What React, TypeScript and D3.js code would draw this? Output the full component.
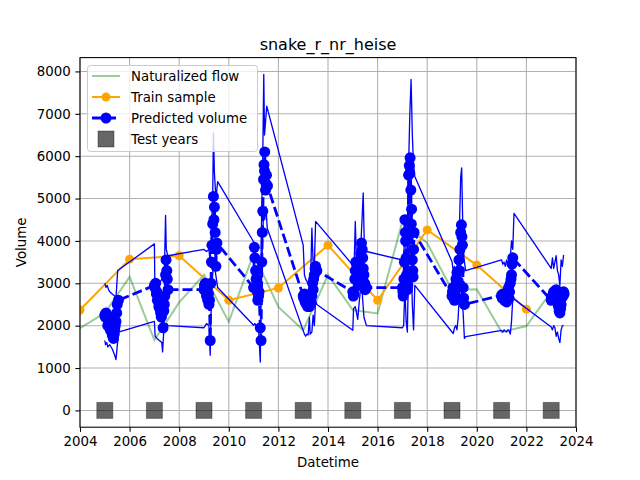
import React, { useRef, useEffect } from 'react';
import * as d3 from 'd3';

// Naturalized flow, one value per year
const naturalYears = [2004, 2005, 2006, 2007, 2008, 2009, 2010, 2011, 2012, 2013, 2014, 2015, 2016, 2017, 2018, 2019, 2020, 2021, 2022, 2023];
const naturalFlow = [1940, 2300, 3150, 1660, 2550, 3200, 2090, 3700, 2440, 1890, 3200, 2370, 2290, 4460, 3950, 2840, 2860, 1850, 1990, 2800];

// Train sample (even years)
const trainYears = [2004, 2006, 2008, 2010, 2012, 2014, 2016, 2018, 2020, 2022];
const trainValues = [2370, 3570, 3650, 2600, 2890, 3900, 2600, 4260, 3430, 2390];

// Test years (odd years)
const testYears = [2005, 2007, 2009, 2011, 2013, 2015, 2017, 2019, 2021, 2023];

// Predicted volume, [decimal year, value]
const predMedian: [number, number][] = [
  [2005.0, 2250], [2005.02, 2200], [2005.05, 2300], [2005.08, 2250], [2005.1, 2200], [2005.12, 2000], [2005.15, 2100], [2005.18, 2050], [2005.2, 2150], [2005.22, 1900], [2005.25, 1950], [2005.28, 2000], [2005.3, 1800], [2005.32, 1750], [2005.35, 1700], [2005.38, 1800], [2005.4, 1900], [2005.42, 2000], [2005.45, 2100], [2005.48, 2300], [2005.5, 2500], [2005.55, 2600],
  [2007.0, 2950], [2007.02, 2900], [2007.05, 3000], [2007.08, 2750], [2007.1, 2800], [2007.12, 2600], [2007.15, 2700], [2007.18, 2450], [2007.2, 2500], [2007.22, 2400], [2007.25, 2300], [2007.28, 2200], [2007.3, 2600], [2007.32, 2300], [2007.35, 1950], [2007.38, 2350], [2007.4, 2500], [2007.42, 2700], [2007.45, 3200], [2007.47, 3550], [2007.5, 3300], [2007.52, 3100], [2007.55, 2850],
  [2009.0, 2850], [2009.02, 2950], [2009.05, 3000], [2009.08, 2800], [2009.1, 2700], [2009.12, 2900], [2009.15, 2600], [2009.18, 2750], [2009.2, 2500], [2009.22, 2600], [2009.25, 1650], [2009.28, 3000], [2009.3, 3500], [2009.32, 3900], [2009.35, 4400], [2009.38, 5050], [2009.4, 4500], [2009.42, 4800], [2009.45, 4200], [2009.48, 3400], [2009.5, 3800], [2009.52, 3950],
  [2011.0, 2900], [2011.03, 3850], [2011.05, 3600], [2011.08, 3300], [2011.1, 3100], [2011.12, 2950], [2011.15, 2800], [2011.17, 2600], [2011.2, 2700], [2011.22, 2800], [2011.27, 1950], [2011.3, 1650], [2011.33, 3500], [2011.35, 4200], [2011.37, 4700], [2011.4, 5450], [2011.42, 5800], [2011.44, 5650], [2011.45, 6100], [2011.48, 5200], [2011.5, 5350], [2011.52, 5550], [2011.56, 5300],
  [2013.0, 2700], [2013.02, 2650], [2013.05, 2750], [2013.08, 2550], [2013.1, 2600], [2013.12, 2700], [2013.15, 2500], [2013.18, 2450], [2013.2, 2550], [2013.22, 2600], [2013.25, 2450], [2013.28, 2500], [2013.3, 2600], [2013.32, 2750], [2013.35, 2700], [2013.38, 3000], [2013.4, 2850], [2013.42, 3100], [2013.45, 3200], [2013.48, 3350], [2013.5, 3400], [2013.55, 3300],
  [2015.0, 2800], [2015.02, 2700], [2015.05, 2750], [2015.08, 3100], [2015.1, 3300], [2015.12, 3500], [2015.15, 3450], [2015.18, 3250], [2015.2, 3100], [2015.22, 2950], [2015.25, 3000], [2015.28, 3250], [2015.3, 3400], [2015.32, 3700], [2015.35, 3950], [2015.38, 3800], [2015.4, 3600], [2015.42, 3350], [2015.45, 3200], [2015.48, 3000], [2015.5, 2850], [2015.55, 2900],
  [2017.0, 2900], [2017.02, 2800], [2017.03, 2700], [2017.06, 3100], [2017.08, 3500], [2017.1, 4500], [2017.12, 4200], [2017.13, 4000], [2017.15, 3600], [2017.17, 3200], [2017.2, 2850], [2017.22, 2950], [2017.25, 5550], [2017.28, 5780], [2017.3, 5600], [2017.31, 5960], [2017.34, 5200], [2017.36, 4400], [2017.37, 4750], [2017.4, 3550], [2017.42, 3300], [2017.43, 3150], [2017.45, 3800], [2017.47, 4200],
  [2019.0, 2700], [2019.02, 2800], [2019.04, 2900], [2019.06, 2750], [2019.08, 2650], [2019.1, 2600], [2019.12, 2800], [2019.14, 2700], [2019.16, 3100], [2019.18, 3000], [2019.2, 3250], [2019.22, 2950], [2019.25, 3050], [2019.28, 3550], [2019.3, 3300], [2019.32, 3800], [2019.35, 4200], [2019.38, 4380], [2019.4, 4100], [2019.42, 3900], [2019.45, 2900], [2019.47, 2650], [2019.5, 2500],
  [2021.0, 2720], [2021.02, 2650], [2021.05, 2750], [2021.08, 2700], [2021.1, 2650], [2021.12, 2600], [2021.15, 2600], [2021.18, 2700], [2021.2, 2560], [2021.22, 2750], [2021.25, 2800], [2021.28, 2900], [2021.3, 2650], [2021.32, 2800], [2021.35, 3000], [2021.38, 3100], [2021.4, 3200], [2021.42, 3450], [2021.45, 3600],
  [2023.0, 2600], [2023.02, 2650], [2023.05, 2700], [2023.08, 2750], [2023.1, 2800], [2023.12, 2700], [2023.15, 2750], [2023.18, 2800], [2023.2, 2850], [2023.22, 2600], [2023.25, 2650], [2023.28, 2500], [2023.3, 2450], [2023.32, 2350], [2023.35, 2300], [2023.38, 2400], [2023.4, 2500], [2023.42, 2650], [2023.45, 2750], [2023.48, 2700], [2023.5, 2800], [2023.52, 2750],
];

const predUpper: [number, number][] = [
  [2005.0, 3000], [2005.05, 2900], [2005.1, 2950], [2005.15, 2850], [2005.2, 2800], [2005.3, 2750], [2005.4, 2700], [2005.45, 2650], [2005.52, 3300],
  [2007.0, 3930], [2007.02, 2850], [2007.1, 3050], [2007.2, 3000], [2007.3, 3100], [2007.4, 3200], [2007.45, 4600], [2007.48, 3800], [2007.52, 3700], [2007.55, 3650],
  [2009.0, 3800], [2009.1, 3750], [2009.2, 3800], [2009.25, 3500], [2009.3, 4300], [2009.35, 5000], [2009.38, 6550], [2009.42, 5600], [2009.48, 5000], [2009.55, 5400],
  [2011.0, 3980], [2011.05, 3700], [2011.1, 3600], [2011.2, 3400], [2011.28, 2500], [2011.32, 4500], [2011.37, 6000], [2011.41, 7930], [2011.44, 6500], [2011.48, 6800], [2011.53, 7180],
  [2013.0, 3900], [2013.05, 3200], [2013.1, 3100], [2013.2, 3000], [2013.3, 3150], [2013.35, 4300], [2013.4, 3500], [2013.45, 3400], [2013.5, 4460],
  [2015.0, 3430], [2015.05, 3300], [2015.1, 4460], [2015.15, 3500], [2015.2, 3400], [2015.3, 3600], [2015.38, 4600], [2015.42, 5130], [2015.46, 4000], [2015.5, 3800], [2015.55, 3750],
  [2017.0, 3550], [2017.05, 3400], [2017.1, 4600], [2017.15, 3700], [2017.2, 3500], [2017.25, 5800], [2017.3, 7000], [2017.35, 7810], [2017.4, 6500], [2017.45, 5800], [2017.5, 5520],
  [2019.0, 3510], [2019.05, 3300], [2019.1, 3400], [2019.15, 3200], [2019.2, 3350], [2019.25, 3900], [2019.3, 4300], [2019.35, 5500], [2019.39, 5720], [2019.43, 4500], [2019.48, 3600], [2019.55, 3300],
  [2021.0, 3550], [2021.05, 3450], [2021.1, 3500], [2021.15, 3400], [2021.2, 3550], [2021.25, 3450], [2021.3, 3500], [2021.35, 3600], [2021.4, 4000], [2021.45, 3800], [2021.5, 4650],
  [2023.0, 3350], [2023.05, 3600], [2023.1, 3350], [2023.15, 3500], [2023.2, 3650], [2023.25, 3300], [2023.3, 3200], [2023.35, 2950], [2023.4, 3550], [2023.45, 3400], [2023.5, 3670],
];

const predLower: [number, number][] = [
  [2005.0, 1650], [2005.03, 1550], [2005.08, 1600], [2005.12, 1500], [2005.2, 1550], [2005.3, 1450], [2005.4, 1300], [2005.45, 1200], [2005.5, 1500], [2005.55, 1850],
  [2007.0, 2100], [2007.03, 1750], [2007.1, 1700], [2007.2, 1650], [2007.3, 1600], [2007.33, 1380], [2007.38, 1900], [2007.45, 2000], [2007.5, 2050], [2007.55, 2000],
  [2009.0, 1950], [2009.05, 2000], [2009.1, 2050], [2009.2, 2000], [2009.25, 1300], [2009.28, 2200], [2009.33, 3000], [2009.38, 3500], [2009.45, 3300], [2009.55, 2900],
  [2011.0, 2010], [2011.05, 2050], [2011.1, 2000], [2011.2, 1950], [2011.27, 1140], [2011.3, 2500], [2011.35, 3800], [2011.4, 4700], [2011.45, 4500], [2011.5, 4800], [2011.55, 4300],
  [2013.05, 1800], [2013.1, 1750], [2013.15, 1800], [2013.2, 1780], [2013.25, 2200], [2013.28, 1800], [2013.35, 1850], [2013.4, 2250], [2013.45, 2000], [2013.5, 2600], [2013.55, 2500],
  [2015.0, 1890], [2015.03, 2400], [2015.1, 2450], [2015.15, 2300], [2015.2, 2150], [2015.25, 2500], [2015.3, 2800], [2015.35, 3100], [2015.4, 2600], [2015.45, 2200], [2015.55, 2000],
  [2017.0, 1950], [2017.05, 2000], [2017.1, 2900], [2017.15, 2100], [2017.2, 1850], [2017.25, 3500], [2017.3, 4500], [2017.35, 3800], [2017.4, 2500], [2017.45, 1900], [2017.5, 2950],
  [2019.05, 1815], [2019.1, 1950], [2019.15, 2000], [2019.2, 1900], [2019.25, 2200], [2019.3, 2800], [2019.35, 3200], [2019.4, 2600], [2019.45, 2300], [2019.5, 1700], [2019.55, 1740],
  [2021.0, 1890], [2021.05, 1850], [2021.1, 1900], [2021.15, 1870], [2021.2, 1850], [2021.25, 1900], [2021.3, 1880], [2021.35, 1800], [2021.4, 2100], [2021.45, 2650],
  [2023.0, 1970], [2023.05, 1900], [2023.1, 2000], [2023.15, 1950], [2023.2, 1750], [2023.25, 1850], [2023.3, 1700], [2023.35, 1600], [2023.4, 1900], [2023.45, 2000], [2023.5, 2000],
];

const xTicks = [2004, 2006, 2008, 2010, 2012, 2014, 2016, 2018, 2020, 2022, 2024];
const yTicks = [0, 1000, 2000, 3000, 4000, 5000, 6000, 7000, 8000];

const width = 640;
const height = 480;
const margin = { top: 57.6, right: 64, bottom: 52.8, left: 80 };
const font = '"DejaVu Sans", sans-serif';

const App: React.FC = () => {
  const svgRef = useRef<SVGSVGElement>(null);

  useEffect(() => {
    document.body.style.margin = '0';
    const svg = d3.select(svgRef.current);
    svg.selectAll('*').remove();

    const innerWidth = width - margin.left - margin.right;
    const innerHeight = height - margin.top - margin.bottom;

    const x = d3.scaleLinear().domain([2004, 2024]).range([0, innerWidth]);
    const y = d3.scaleLinear().domain([-396, 8326]).range([innerHeight, 0]);

    svg.append('rect').attr('width', width).attr('height', height).attr('fill', '#ffffff');

    const g = svg.append('g').attr('transform', `translate(${margin.left}, ${margin.top})`);

    g.append('defs')
      .append('clipPath')
      .attr('id', 'plot-clip')
      .append('rect')
      .attr('width', innerWidth)
      .attr('height', innerHeight);

    // Grid
    g.selectAll('.grid-x')
      .data(xTicks)
      .enter()
      .append('line')
      .attr('x1', d => x(d))
      .attr('x2', d => x(d))
      .attr('y1', 0)
      .attr('y2', innerHeight)
      .attr('stroke', '#b0b0b0')
      .attr('stroke-width', 1.07);

    g.selectAll('.grid-y')
      .data(yTicks)
      .enter()
      .append('line')
      .attr('x1', 0)
      .attr('x2', innerWidth)
      .attr('y1', d => y(d))
      .attr('y2', d => y(d))
      .attr('stroke', '#b0b0b0')
      .attr('stroke-width', 1.07);

    const plot = g.append('g').attr('clip-path', 'url(#plot-clip)');

    const line = d3
      .line<[number, number]>()
      .x(d => x(d[0]))
      .y(d => y(d[1]));

    // Naturalized flow
    const natural = naturalYears.map((yr, i) => [yr, naturalFlow[i]] as [number, number]);
    plot.append('path')
      .datum(natural)
      .attr('d', line)
      .attr('fill', 'none')
      .attr('stroke', '#008000')
      .attr('stroke-opacity', 0.4)
      .attr('stroke-width', 2);

    // Train sample
    const train = trainYears.map((yr, i) => [yr, trainValues[i]] as [number, number]);
    plot.append('path')
      .datum(train)
      .attr('d', line)
      .attr('fill', 'none')
      .attr('stroke', '#ffa500')
      .attr('stroke-width', 2);

    plot.selectAll('.train-pt')
      .data(train)
      .enter()
      .append('circle')
      .attr('cx', d => x(d[0]))
      .attr('cy', d => y(d[1]))
      .attr('r', 4.5)
      .attr('fill', '#ffa500');

    // Prediction bounds (thin lines)
    [predUpper, predLower].forEach(series => {
      plot.append('path')
        .datum(series)
        .attr('d', line)
        .attr('fill', 'none')
        .attr('stroke', '#0000ff')
        .attr('stroke-width', 1.33)
        .attr('stroke-linejoin', 'round');
    });

    // Predicted volume
    plot.append('path')
      .datum(predMedian)
      .attr('d', line)
      .attr('fill', 'none')
      .attr('stroke', '#0000ff')
      .attr('stroke-width', 2.8)
      .attr('stroke-dasharray', '10,4');

    plot.selectAll('.pred-pt')
      .data(predMedian)
      .enter()
      .append('circle')
      .attr('cx', d => x(d[0]))
      .attr('cy', d => y(d[1]))
      .attr('r', 5.5)
      .attr('fill', '#0000ff');

    // Test years
    plot.selectAll('.test-pt')
      .data(testYears)
      .enter()
      .append('rect')
      .attr('x', d => x(d) - 8)
      .attr('y', y(0) - 8)
      .attr('width', 16)
      .attr('height', 16)
      .attr('fill', '#000000')
      .attr('fill-opacity', 0.6)
      .attr('stroke', '#000000')
      .attr('stroke-opacity', 0.35)
      .attr('stroke-width', 1);

    // Axes
    const xAxis = d3.axisBottom(x).tickValues(xTicks).tickFormat(d3.format('d')).tickSize(4.67).tickPadding(4.67);
    const yAxis = d3.axisLeft(y).tickValues(yTicks).tickFormat(d3.format('d')).tickSize(4.67).tickPadding(4.67);

    const gx = g.append('g').attr('transform', `translate(0, ${innerHeight})`).call(xAxis);
    const gy = g.append('g').call(yAxis);

    [gx, gy].forEach(ax => {
      ax.select('.domain').remove();
      ax.selectAll('.tick line').attr('stroke', '#000').attr('stroke-width', 1.07);
      ax.selectAll('text')
        .attr('fill', '#000')
        .style('font-family', font)
        .style('font-size', '13.33px');
    });

    g.append('rect')
      .attr('width', innerWidth)
      .attr('height', innerHeight)
      .attr('fill', 'none')
      .attr('stroke', '#000')
      .attr('stroke-width', 1.07);

    // Labels
    svg.append('text')
      .attr('x', margin.left + innerWidth / 2)
      .attr('y', 50)
      .attr('text-anchor', 'middle')
      .style('font-family', font)
      .style('font-size', '16px')
      .text('snake_r_nr_heise');

    svg.append('text')
      .attr('x', margin.left + innerWidth / 2)
      .attr('y', 467)
      .attr('text-anchor', 'middle')
      .style('font-family', font)
      .style('font-size', '13.33px')
      .text('Datetime');

    svg.append('text')
      .attr('transform', `translate(26, ${margin.top + innerHeight / 2}) rotate(-90)`)
      .attr('text-anchor', 'middle')
      .style('font-family', font)
      .style('font-size', '13.33px')
      .text('Volume');

    // Legend
    const lg = svg.append('g');
    lg.append('rect')
      .attr('x', 87.5)
      .attr('y', 65.5)
      .attr('width', 170)
      .attr('height', 86)
      .attr('rx', 3)
      .attr('fill', '#ffffff')
      .attr('fill-opacity', 0.8)
      .attr('stroke', '#cccccc')
      .attr('stroke-width', 1);

    const rows = [
      { label: 'Naturalized flow', y: 76 },
      { label: 'Train sample', y: 97 },
      { label: 'Predicted volume', y: 118 },
      { label: 'Test years', y: 139 },
    ];
    const hx0 = 92;
    const hx1 = 120;
    const hxm = (hx0 + hx1) / 2;

    lg.append('line')
      .attr('x1', hx0).attr('x2', hx1).attr('y1', rows[0].y).attr('y2', rows[0].y)
      .attr('stroke', '#008000').attr('stroke-opacity', 0.4).attr('stroke-width', 2);

    lg.append('line')
      .attr('x1', hx0).attr('x2', hx1).attr('y1', rows[1].y).attr('y2', rows[1].y)
      .attr('stroke', '#ffa500').attr('stroke-width', 2);
    lg.append('circle').attr('cx', hxm).attr('cy', rows[1].y).attr('r', 4.5).attr('fill', '#ffa500');

    lg.append('line')
      .attr('x1', hx0).attr('x2', hx1).attr('y1', rows[2].y).attr('y2', rows[2].y)
      .attr('stroke', '#0000ff').attr('stroke-width', 2.8).attr('stroke-dasharray', '10,4');
    lg.append('circle').attr('cx', hxm).attr('cy', rows[2].y).attr('r', 5.5).attr('fill', '#0000ff');

    lg.append('rect')
      .attr('x', hxm - 8).attr('y', rows[3].y - 8).attr('width', 16).attr('height', 16)
      .attr('fill', '#000000').attr('fill-opacity', 0.6)
      .attr('stroke', '#000000').attr('stroke-opacity', 0.35).attr('stroke-width', 1);

    rows.forEach(r => {
      lg.append('text')
        .attr('x', 131)
        .attr('y', r.y)
        .attr('dy', '0.35em')
        .style('font-family', font)
        .style('font-size', '13.33px')
        .text(r.label);
    });
  }, []);

  return <svg ref={svgRef} width={width} height={height} style={{ display: 'block' }} />;
};

export default App;
